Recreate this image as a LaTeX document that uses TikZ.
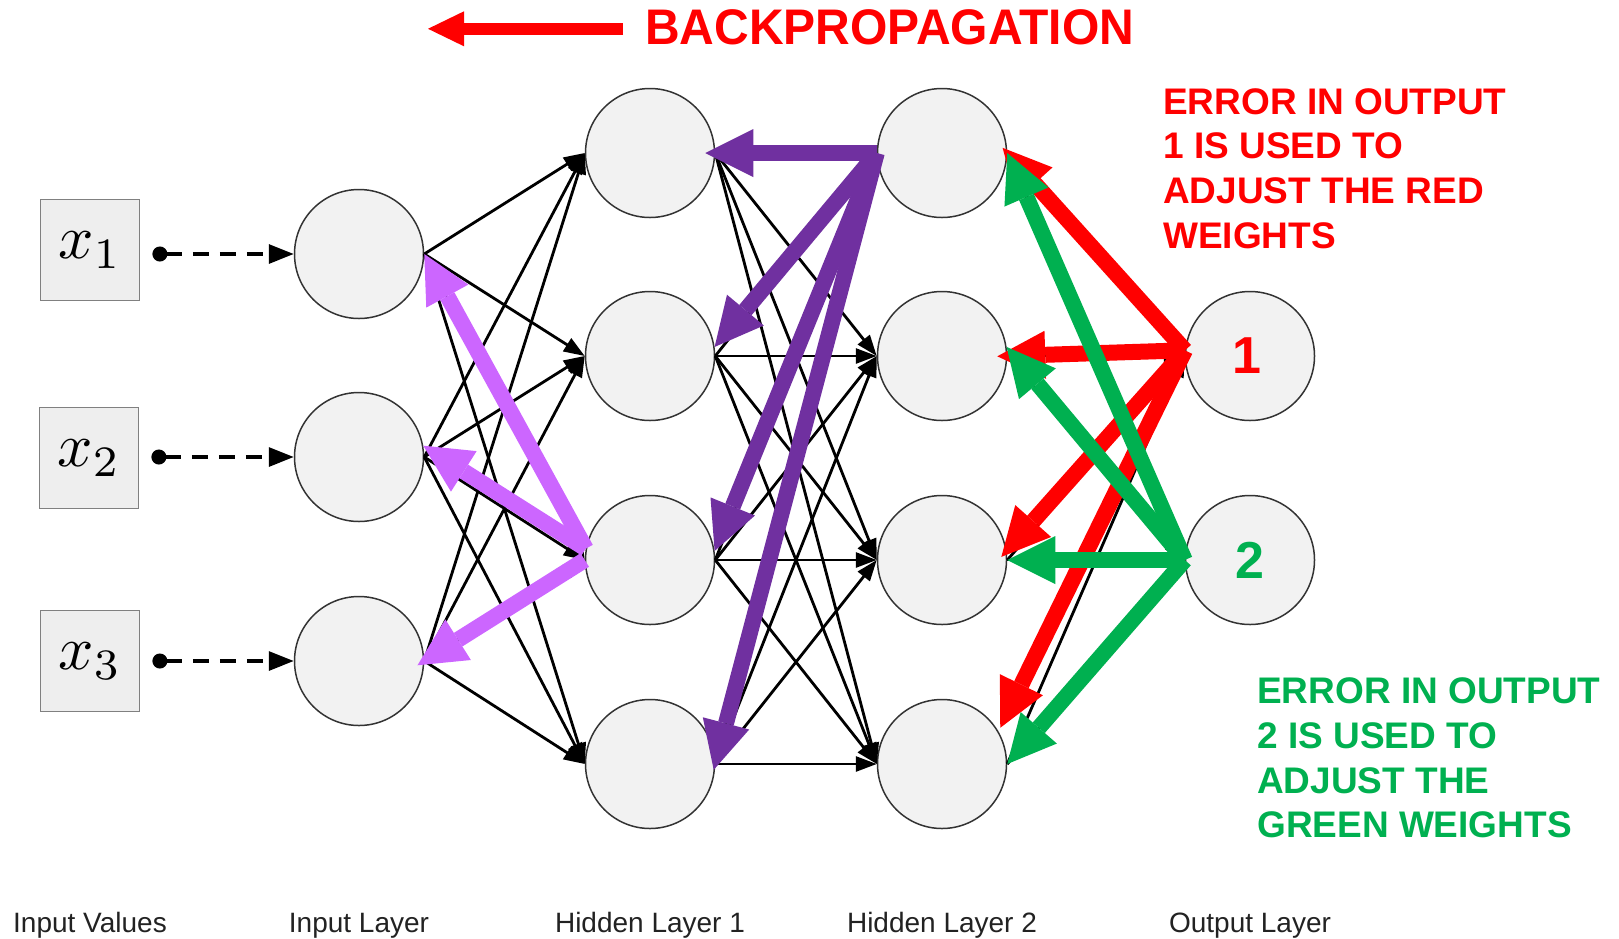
\documentclass[tikz,border=0pt]{standalone}
\usepackage[no-math]{fontspec}
\newfontfamily\labelfont{Liberation Sans}
\usetikzlibrary{arrows.meta,calc}
\definecolor{nodefill}{HTML}{F2F2F2}
\definecolor{nodeline}{HTML}{333333}
\definecolor{boxfill}{HTML}{EEEEEE}
\definecolor{boxline}{HTML}{808080}
\definecolor{errred}{HTML}{FF0000}
\definecolor{errgreen}{HTML}{00B050}
\definecolor{lilac}{HTML}{CC66FF}
\definecolor{deeppurple}{HTML}{7030A0}
\definecolor{labelgray}{HTML}{222222}
\newcommand{\invar}[1]{\scalebox{6.2}{$x_{#1}$}}

\begin{document}
\begin{tikzpicture}[x=1pt,y=-1pt,
  neuron/.style={circle,draw=nodeline,fill=nodefill,line width=1.5pt,minimum size=129pt,inner sep=0pt},
  inputbox/.style={rectangle,draw=boxline,fill=boxfill,line width=1.8pt,minimum width=99pt,minimum height=101pt,inner sep=0pt},
  weight/.style={line width=2.8pt,-{Triangle[length=21pt,width=15pt]}},
  feed/.style={line width=3.2pt,dash pattern=on 16pt off 11pt,{Circle[length=15pt]}-{Triangle[length=25pt,width=19pt]}},
  backarrow/.style={line width=16pt,-{Triangle[length=48pt,width=48pt,line width=0pt]}},
  layername/.style={anchor=base,text=labelgray,font=\labelfont\fontsize{28}{30}\selectfont,inner sep=0pt},
  note/.style={anchor=base west,inner sep=0pt,font=\labelfont\bfseries\fontsize{37}{44}\selectfont},
  outdigit/.style={font=\labelfont\bfseries\fontsize{52}{52}\selectfont}
]
\useasboundingbox (0,0) rectangle (1619,938);

% input values
\node[inputbox] (x1) at (90,250) {\invar{1}};
\node[inputbox] (x2) at (89,458) {\invar{2}};
\node[inputbox] (x3) at (90,661) {\invar{3}};

% neurons
\foreach \n/\y in {1/254,2/457,3/661}
  \node[neuron] (i\n) at (359,\y) {};
\foreach \n/\y in {1/153,2/356,3/560,4/764} {
  \node[neuron] (ha\n) at (650,\y) {};
  \node[neuron] (hb\n) at (942,\y) {};
}
\node[neuron,outdigit,text=errred] (o1) at (1250,356) {\hspace*{-6pt}1};
\node[neuron,outdigit,text=errgreen] (o2) at (1250,560) {2};

% input feeds
\foreach \n in {1,2,3} {
  \coordinate (d\n) at ($(x\n.east |- i\n)+(12,0)$);
  \draw[feed] (d\n) -- (i\n.west);
}

% forward weights
\foreach \a in {1,2,3}
  \foreach \b in {1,...,4}
    \draw[weight] (i\a.east) -- (ha\b.west);
\foreach \a in {1,...,4}
  \foreach \b in {1,...,4}
    \draw[weight] (ha\a.east) -- (hb\b.west);
\foreach \a in {1,...,4}
  \foreach \b in {1,2}
    \draw[weight] (hb\a.east) -- (o\b.west);

% backward error flow
\draw[backarrow,lilac] (ha3.170) -- (i1.east);
\draw[backarrow,lilac] (ha3.170) -- (i2.10);
\draw[backarrow,lilac,shorten >=-8pt] (ha3.west) -- (i3.east);

\draw[backarrow,deeppurple,shorten >=-10pt] (hb1.west) -- (ha1.east);
\draw[backarrow,deeppurple] (hb1.west) -- (ha2.8);
\draw[backarrow,deeppurple] (hb1.west) -- (ha3.8);
\draw[backarrow,deeppurple,shorten >=-6pt] (hb1.west) -- (ha4.east);

\draw[backarrow,errred,shorten >=-7pt] (o1.175) -- (hb1.east);
\draw[backarrow,errred,shorten >=-10pt] (o1.175) -- (hb2.east);
\draw[backarrow,errred,shorten >=-8pt] (o1.175) -- (hb3.8);
\draw[backarrow,errred,shorten >=4pt] (o1.175) -- (hb4.30);

\draw[backarrow,errgreen] (o2.west) -- (hb1.east);
\draw[backarrow,errgreen] (o2.west) -- (hb2.8);
\draw[backarrow,errgreen] (o2.west) -- (hb3.east);
\draw[backarrow,errgreen] (o2.west) -- (hb4.east);

% title
\node[anchor=base west,inner sep=0pt,text=errred,font=\labelfont\bfseries\fontsize{50}{50}\selectfont] (bp) at (645,44) {\scalebox{0.96}[1]{BACKPROPAGATION}};
\coordinate (bptail) at ($(bp.west)+(-22,2)$);
\coordinate (bphead) at ($(bp.west)+(-217,2)$);
\draw[errred,line width=11.5pt,-{Triangle[length=36pt,width=35pt,line width=0pt]}] (bptail) -- (bphead);

% notes
\node[note,text=errred] (r1) at (1163,114) {ERROR IN OUTPUT};
\node[note,text=errred] (r2) at (1163,158) {1 IS USED TO};
\node[note,text=errred] (r3) at (1163,203) {ADJUST THE RED};
\node[note,text=errred] (r4) at (1163,248) {WEIGHTS};

\node[note,text=errgreen] (g1) at (1257,703) {ERROR IN OUTPUT};
\node[note,text=errgreen] (g2) at (1257,748) {2 IS USED TO};
\node[note,text=errgreen] (g3) at (1257,793) {ADJUST THE};
\node[note,text=errgreen] (g4) at (1257,837) {GREEN WEIGHTS};

% layer names
\node[layername] (lv) at (90,932) {Input Values};
\node[layername] (li) at (359,932) {Input Layer};
\node[layername] (lh1) at (650,932) {Hidden Layer 1};
\node[layername] (lh2) at (942,932) {Hidden Layer 2};
\node[layername] (lo) at (1250,932) {Output Layer};
\end{tikzpicture}
\end{document}
